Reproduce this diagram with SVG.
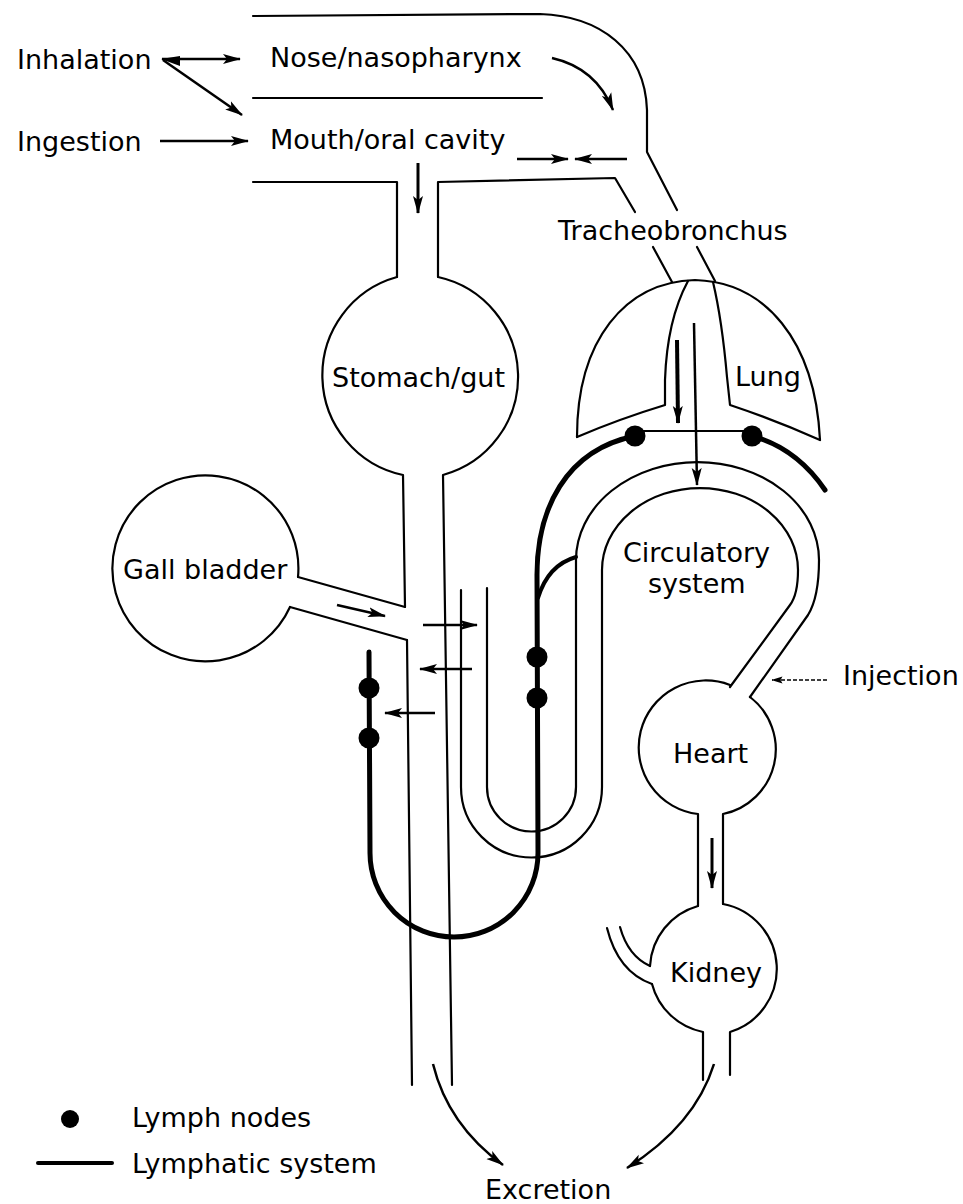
<svg xmlns="http://www.w3.org/2000/svg" width="963" height="1204" viewBox="0 0 963 1204">
<defs>
<marker id="ah" markerUnits="userSpaceOnUse" viewBox="0 0 18 11" markerWidth="18" markerHeight="11" refX="17" refY="5.5" orient="auto"><path d="M0,0.5 L18,5.5 L0,10.5 L4,5.5 z" fill="#000"/></marker>
<marker id="ahs" markerUnits="userSpaceOnUse" viewBox="0 0 11 8" markerWidth="11" markerHeight="8" refX="10.5" refY="4" orient="auto"><path d="M0,0.5 L11,4 L0,7.5 L2,4 z" fill="#000"/></marker>
</defs>
<style>
.o{fill:none;stroke:#000;stroke-width:2.2;stroke-linecap:round;stroke-linejoin:round}
.ly{fill:none;stroke:#000;stroke-width:5;stroke-linecap:round;stroke-linejoin:round}
.ar{fill:none;stroke:#000;stroke-width:2.5;marker-end:url(#ah)}
.t{font-family:"DejaVu Sans",sans-serif;font-size:27px;fill:#000}
.nd{fill:#000}
</style>
<rect width="963" height="1204" fill="#fff"/>

<g id="nose-mouth">
<path class="o" d="M253,16 L540,14 C600,16 645,50 647,110 L647,152 L677,210"/>
<path class="o" d="M253,98 L542,98"/>
<path class="o" d="M253,182 L397,182 L397,277"/>
<path class="o" d="M438,277 L438,182 L615,178 L635,212"/>
<text class="t" x="270" y="67">Nose/nasopharynx</text>
<text class="t" x="270" y="149">Mouth/oral cavity</text>
</g>

<g id="trachea">
<path class="o" d="M653,247 L672,282"/>
<path class="o" d="M697,247 L715,281"/>
<text class="t" x="558" y="240">Tracheobronchus</text>
</g>

<g id="lung">
<path class="o" d="M577,437 C577,340 625,282 695,280 C765,282 815,340 820,440"/>
<path class="o" d="M577,437 Q619,419 665,405 L665,380 Q667,320 688,281"/>
<path class="o" d="M820,440 Q775,420 730,405 L727,377 Q722,320 713,282"/>
<text class="t" x="735" y="386">Lung</text>
</g>

<g id="stomach">
<path class="o" d="M397,277 A102,102 0 0 0 403,475 L405,607"/>
<path class="o" d="M438,277 A102,102 0 0 1 443,475 L452,1085"/>
<path class="o" d="M407,640 L412,1085"/>
<text class="t" x="332" y="387">Stomach/gut</text>
</g>

<g id="gall-bladder">
<path class="o" d="M298,577 A93,93 0 1 0 290,607"/>
<path class="o" d="M298,577 L405,607"/>
<path class="o" d="M290,607 L407,640"/>
<text class="t" x="123" y="579">Gall bladder</text>
</g>

<g id="circulatory-system">
<path class="o" d="M750,697 L808,615 C816,602 819,585 819,560 A121.5,98 0 0 0 576,560 L576,787 A44.5,44.5 0 0 1 487,787 L487,588"/>
<path class="o" d="M730,687 L790,605 C796,597 798,585 798,570 A98,82 0 0 0 602,570 L602,787 A70.5,70.5 0 0 1 461,787 L461,590"/>
<text class="t" x="623" y="562">Circulatory</text>
<text class="t" x="648" y="593">system</text>
</g>

<g id="heart">
<path class="o" d="M730,685 A67,67 0 1 0 698,814 L698,906"/>
<path class="o" d="M750,697 A66,66 0 0 1 723,814 L723,904"/>
<text class="t" x="673" y="763">Heart</text>
</g>

<g id="kidney">
<path class="o" d="M698,906 A66,66 0 0 0 650,966"/>
<path class="o" d="M652,984 A66,66 0 0 0 703,1032 L703,1080"/>
<path class="o" d="M723,904 A66,66 0 0 1 730,1032 L730,1075"/>
<path class="o" d="M607,928 Q618,972 652,984"/>
<path class="o" d="M620,927 Q628,956 650,966"/>
<text class="t" x="670" y="982">Kidney</text>
</g>

<g id="lymphatic-system">
<path class="ly" d="M752,436 C785,445 808,465 825,490"/>
<path class="o" d="M635,431 L752,431"/>
<path class="ly" d="M635,436 C565,450 537,510 537,575 L538,853 A84,84 0 0 1 370,853 L369,652"/>
<path class="ly" style="stroke-width:4" d="M538,598 Q548,565 576,557"/>
<circle class="nd" cx="635" cy="436" r="10.5"/>
<circle class="nd" cx="752" cy="436" r="10.5"/>
<circle class="nd" cx="537" cy="657" r="10.5"/>
<circle class="nd" cx="537" cy="698" r="10.5"/>
<circle class="nd" cx="369" cy="688" r="10.5"/>
<circle class="nd" cx="369" cy="738" r="10.5"/>
</g>

<g id="labels">
<text class="t" x="17" y="69">Inhalation</text>
<text class="t" x="17" y="151">Ingestion</text>
<text class="t" x="843" y="685">Injection</text>
<text class="t" x="485" y="1199">Excretion</text>
</g>

<g id="connectors">
<path d="M161,59 L180,56 L180,66 z" fill="#000"/>
<path class="ar" d="M162,59 L240,59"/>
<path class="ar" d="M163,60 L242,115"/>
<path class="ar" d="M160,141 L248,141"/>
<path class="ar" d="M552,58 Q596,68 613,110"/>
<path class="ar" d="M517,159 L568,159"/>
<path class="ar" d="M627,159 L575,159"/>
<path class="ar" style="stroke-width:3" d="M418,163 L418,213"/>
<path class="ar" style="stroke-width:4" d="M677,340 L678,423"/>
<path class="ar" d="M694,323 L697,485"/>
<path class="ar" d="M337,605 L385,616"/>
<path class="ar" d="M423,625 L477,625"/>
<path class="ar" d="M472,669 L420,669"/>
<path class="ar" d="M435,713 L385,713"/>
<path class="ar" style="stroke-width:3" d="M712,838 L712,888"/>
<path fill="none" stroke="#000" stroke-width="1.5" stroke-dasharray="4 2" marker-end="url(#ahs)" d="M827,680 L772,680"/>
<path class="ar" d="M433,1064 Q448,1125 503,1165"/>
<path class="ar" d="M714,1064 Q695,1125 627,1168"/>
</g>

<g id="legend">
<circle class="nd" cx="70" cy="1119" r="9"/>
<text class="t" x="132" y="1127">Lymph nodes</text>
<path class="ly" style="stroke-width:4" d="M38,1163 L112,1163"/>
<text class="t" x="132" y="1173">Lymphatic system</text>
</g>
</svg>
